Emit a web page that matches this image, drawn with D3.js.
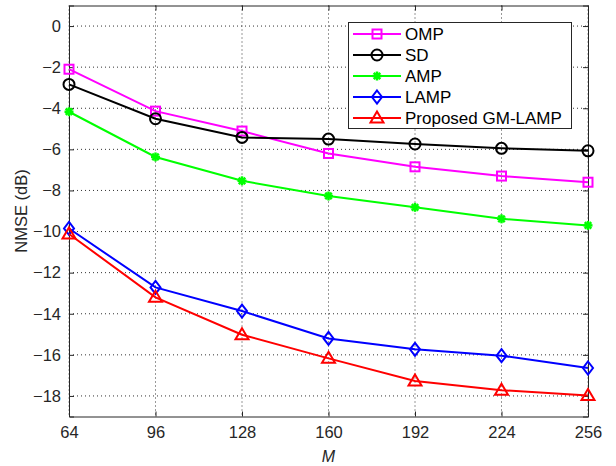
<!DOCTYPE html>
<html>
<head>
<meta charset="utf-8">
<script src="https://cdn.jsdelivr.net/npm/d3@7"></script>
<style>
  body { margin: 0; background: #fff; }
  text { font-family: "Liberation Sans", Arial, sans-serif; }
</style>
</head>
<body>
<div id="chart"></div>
<script>
// M values on the x axis
const mValues = [64, 96, 128, 160, 192, 224, 256];
const yTicks = [0, -2, -4, -6, -8, -10, -12, -14, -16, -18];

// NMSE (dB)
const omp = [-2.1, -4.14, -5.11, -6.2, -6.85, -7.3, -7.6];
const sd = [-2.84, -4.51, -5.42, -5.5, -5.74, -5.95, -6.07];
const amp = [-4.17, -6.37, -7.53, -8.27, -8.82, -9.38, -9.7];
const lamp = [-9.85, -12.72, -13.87, -15.2, -15.73, -16.04, -16.64];
const gmLamp = [-10.12, -13.2, -15.02, -16.17, -17.27, -17.72, -17.98];

const seriesNames = ["OMP", "SD", "AMP", "LAMP", "Proposed GM-LAMP"];
const seriesColors = ["#ff00ff", "#000000", "#00ff00", "#0000ff", "#ff0000"];
const seriesMarkers = ["square", "circle", "asterisk", "diamond", "triangle"];
const seriesData = [omp, sd, amp, lamp, gmLamp];

const width = 616, height = 466;
const pLeft = 69, pRight = 588, pTop = 5.5, pBottom = 416.5;

const svg = d3.select("#chart").append("svg")
  .attr("width", width)
  .attr("height", height);

const x = d3.scaleLinear().domain([64, 256]).range([pLeft, pRight]);
const y = d3.scaleLinear().domain([-19, 1]).range([pBottom, pTop]);

const axisColor = "#262626";

// grid
const grid = svg.append("g");
mValues.forEach(m => {
  grid.append("line")
    .attr("x1", x(m)).attr("x2", x(m))
    .attr("y1", pTop).attr("y2", pBottom)
    .attr("stroke", "#333").attr("stroke-width", 1)
    .attr("stroke-dasharray", "1,3");
});
yTicks.forEach(v => {
  grid.append("line")
    .attr("x1", pLeft).attr("x2", pRight)
    .attr("y1", y(v)).attr("y2", y(v))
    .attr("stroke", "#333").attr("stroke-width", 1)
    .attr("stroke-dasharray", "1,3");
});

// axes (ticks inward, box on)
const xAxis = d3.axisBottom(x).tickValues(mValues).tickSize(-5).tickPadding(10);
const yAxis = d3.axisLeft(y).tickValues(yTicks).tickSize(-5).tickPadding(8);

const gx = svg.append("g").attr("transform", `translate(0,${pBottom})`).call(xAxis);
const gy = svg.append("g").attr("transform", `translate(${pLeft},0)`).call(yAxis);
const gxTop = svg.append("g").attr("transform", `translate(0,${pTop})`)
  .call(d3.axisTop(x).tickValues(mValues).tickSize(-5).tickFormat(""));
const gyRight = svg.append("g").attr("transform", `translate(${pRight},0)`)
  .call(d3.axisRight(y).tickValues(yTicks).tickSize(-5).tickFormat(""));

[gx, gy, gxTop, gyRight].forEach(g => {
  g.select(".domain").attr("stroke", axisColor).attr("stroke-width", 1);
  g.selectAll(".tick line").attr("stroke", axisColor);
  g.selectAll(".tick text")
    .attr("fill", axisColor)
    .style("font-size", "16.5px");
});

// axis labels
svg.append("text")
  .attr("x", (pLeft + pRight) / 2)
  .attr("y", 462)
  .attr("text-anchor", "middle")
  .attr("fill", axisColor)
  .style("font-size", "16px")
  .style("font-style", "italic")
  .text("M");

svg.append("text")
  .attr("transform", `translate(27,${(pTop + pBottom) / 2}) rotate(-90)`)
  .attr("text-anchor", "middle")
  .attr("fill", axisColor)
  .style("font-size", "16.5px")
  .text("NMSE (dB)");

function drawMarker(g, type, cx, cy, color) {
  if (type === "square") {
    g.append("rect")
      .attr("x", cx - 4.5).attr("y", cy - 4.5)
      .attr("width", 9).attr("height", 9)
      .attr("fill", "none").attr("stroke", color).attr("stroke-width", 2);
  } else if (type === "circle") {
    g.append("circle")
      .attr("cx", cx).attr("cy", cy).attr("r", 5.5)
      .attr("fill", "none").attr("stroke", color).attr("stroke-width", 2);
  } else if (type === "asterisk") {
    const r = 4.5;
    [[r, 0], [0, r], [r * 0.72, r * 0.72], [r * 0.72, -r * 0.72]].forEach(d => {
      g.append("line")
        .attr("x1", cx - d[0]).attr("y1", cy - d[1])
        .attr("x2", cx + d[0]).attr("y2", cy + d[1])
        .attr("stroke", color).attr("stroke-width", 2.5);
    });
  } else if (type === "diamond") {
    g.append("path")
      .attr("d", `M${cx},${cy - 6.5}L${cx + 5},${cy}L${cx},${cy + 6.5}L${cx - 5},${cy}Z`)
      .attr("fill", "none").attr("stroke", color).attr("stroke-width", 2);
  } else if (type === "triangle") {
    g.append("path")
      .attr("d", `M${cx},${cy - 6.5}L${cx + 6.5},${cy + 4.5}L${cx - 6.5},${cy + 4.5}Z`)
      .attr("fill", "none").attr("stroke", color).attr("stroke-width", 2);
  }
}

const line = d3.line()
  .x((d, i) => x(mValues[i]))
  .y(d => y(d));

seriesData.forEach((vals, k) => {
  const g = svg.append("g");
  g.append("path")
    .datum(vals)
    .attr("d", line)
    .attr("fill", "none")
    .attr("stroke", seriesColors[k])
    .attr("stroke-width", 2);
  vals.forEach((v, i) => drawMarker(g, seriesMarkers[k], x(mValues[i]), y(v), seriesColors[k]));
});

// legend
const lg = svg.append("g");
lg.append("rect")
  .attr("x", 348.5).attr("y", 22.5)
  .attr("width", 223).attr("height", 106)
  .attr("fill", "#fff").attr("stroke", axisColor).attr("stroke-width", 1);

seriesNames.forEach((name, k) => {
  const ly = 34 + k * 21;
  lg.append("line")
    .attr("x1", 353).attr("x2", 401)
    .attr("y1", ly).attr("y2", ly)
    .attr("stroke", seriesColors[k]).attr("stroke-width", 2);
  drawMarker(lg, seriesMarkers[k], 377, ly, seriesColors[k]);
  lg.append("text")
    .attr("x", 405).attr("y", ly)
    .attr("dy", "0.36em")
    .attr("fill", "#000")
    .style("font-size", "17px")
    .text(name);
});
</script>
</body>
</html>
